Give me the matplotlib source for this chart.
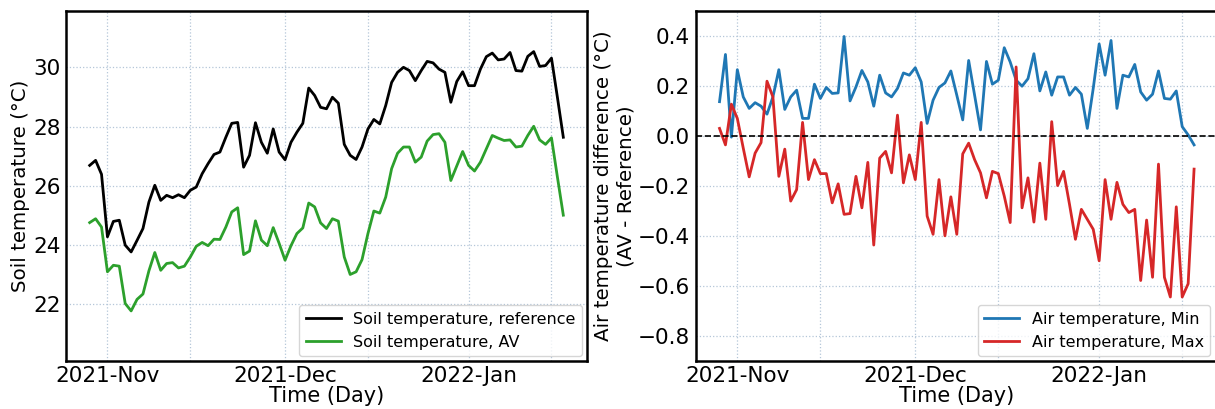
import numpy as np
import pandas as pd
import matplotlib
matplotlib.use("Agg")
import matplotlib.pyplot as plt
import matplotlib.dates as mdates

dates = pd.date_range("2021-10-29", "2022-01-17", freq="D")

soil_ref = [26.69, 26.86, 26.39, 24.28, 24.80, 24.84, 24.00, 23.77, 24.16, 24.56,
            25.45, 26.02, 25.51, 25.68, 25.60, 25.70, 25.60, 25.85, 25.96, 26.41,
            26.75, 27.06, 27.14, 27.64, 28.11, 28.14, 26.63, 27.03, 28.13, 27.47,
            27.10, 27.92, 27.14, 26.88, 27.47, 27.81, 28.11, 29.30, 29.05, 28.65,
            28.60, 28.99, 28.79, 27.40, 27.03, 26.89, 27.31, 27.92, 28.24, 28.09,
            28.71, 29.49, 29.83, 30.00, 29.89, 29.55, 29.89, 30.20, 30.15, 29.94,
            29.83, 28.82, 29.52, 29.85, 29.38, 29.38, 29.94, 30.36, 30.48, 30.25,
            30.28, 30.50, 29.89, 29.87, 30.37, 30.53, 30.03, 30.06, 30.31, 28.99,
            27.64]

soil_av = [24.76, 24.89, 24.61, 23.10, 23.32, 23.29, 22.03, 21.78, 22.17, 22.35,
           23.13, 23.75, 23.15, 23.38, 23.41, 23.23, 23.29, 23.60, 23.96, 24.09,
           23.98, 24.20, 24.19, 24.61, 25.12, 25.26, 23.68, 23.80, 24.82, 24.17,
           23.98, 24.59, 24.06, 23.49, 23.98, 24.39, 24.58, 25.42, 25.29, 24.75,
           24.56, 24.89, 24.81, 23.60, 23.01, 23.10, 23.51, 24.39, 25.15, 25.08,
           25.62, 26.58, 27.10, 27.31, 27.31, 26.80, 26.97, 27.51, 27.73, 27.76,
           27.47, 26.18, 26.67, 27.16, 26.69, 26.50, 26.80, 27.25, 27.70, 27.61,
           27.53, 27.55, 27.31, 27.34, 27.70, 28.01, 27.55, 27.40, 27.62, 26.30,
           25.01]

air_min = [0.137, 0.326, -0.005, 0.265, 0.156, 0.110, 0.133, 0.119, 0.087, 0.156,
           0.265, 0.106, 0.156, 0.183, 0.070, 0.070, 0.207, 0.150, 0.194, 0.170,
           0.172, 0.398, 0.140, 0.196, 0.262, 0.216, 0.119, 0.243, 0.172, 0.156,
           0.190, 0.252, 0.243, 0.273, 0.216, 0.050, 0.143, 0.194, 0.212, 0.260,
           0.163, 0.064, 0.302, 0.163, 0.024, 0.298, 0.207, 0.223, 0.353, 0.296,
           0.223, 0.199, 0.229, 0.329, 0.180, 0.256, 0.163, 0.236, 0.236, 0.163,
           0.194, 0.167, 0.030, 0.190, 0.368, 0.243, 0.382, 0.110, 0.243, 0.236,
           0.286, 0.176, 0.143, 0.167, 0.260, 0.150, 0.147, 0.180, 0.037, 0.004,
           -0.036]

air_max = [0.030, -0.036, 0.127, 0.070, -0.049, -0.164, -0.069, -0.027, 0.219, 0.156,
           -0.162, -0.053, -0.261, -0.215, 0.054, -0.175, -0.095, -0.151, -0.151, -0.268,
           -0.192, -0.314, -0.311, -0.162, -0.288, -0.106, -0.437, -0.089, -0.062, -0.148,
           0.083, -0.188, -0.076, -0.175, 0.054, -0.321, -0.394, -0.175, -0.400, -0.244,
           -0.394, -0.072, -0.029, -0.095, -0.148, -0.248, -0.142, -0.151, -0.241, -0.347,
           0.276, -0.288, -0.168, -0.345, -0.109, -0.334, 0.057, -0.199, -0.142, -0.274,
           -0.414, -0.294, -0.334, -0.374, -0.500, -0.175, -0.334, -0.186, -0.274, -0.307,
           -0.294, -0.579, -0.337, -0.566, -0.113, -0.566, -0.645, -0.284, -0.645, -0.592,
           -0.133]

fig = plt.figure(figsize=(12.15, 4.09), dpi=100)
W, H = 1215, 409
ax1 = fig.add_axes([66 / W, (H - 360.7) / H, 521 / W, 349.7 / H])
ax2 = fig.add_axes([695.8 / W, (H - 360.7) / H, 522 / W, 349.7 / H])

grid_kw = dict(color="#b4c6d8", linestyle=":", linewidth=0.9)

def style(ax):
    ax.xaxis.set_major_locator(mdates.MonthLocator())
    ax.xaxis.set_minor_locator(mdates.MonthLocator(bymonthday=15))
    ax.xaxis.set_major_formatter(mdates.DateFormatter("%Y-%b"))
    ax.grid(True, which="major", axis="both", **grid_kw)
    ax.grid(True, which="minor", axis="x", **grid_kw)
    ax.tick_params(axis="both", which="both", length=0, pad=4, labelsize=15.5)
    for s in ax.spines.values():
        s.set_linewidth(1.8)
        s.set_color("black")
    ax.set_axisbelow(True)

ax1.plot(dates, soil_ref, color="black", lw=2, label="Soil temperature, reference")
ax1.plot(dates, soil_av, color="#2ca02c", lw=2, label="Soil temperature, AV")
ax1.set_ylim(20.1, 31.9)
ax1.set_yticks([22, 24, 26, 28, 30])
style(ax1)
ax1.set_xlim(dates[0] - pd.Timedelta(days=4), dates[-1] + pd.Timedelta(days=4))
ax1.set_xlabel("Time (Day)", fontsize=15, labelpad=0)
ax1.set_ylabel("Soil temperature (°C)", fontsize=14.3, labelpad=2)
ax1.legend(loc="lower right", fontsize=11.5, frameon=True, handlelength=2.2,
           borderaxespad=0.3)

ax2.plot(dates, air_min, color="#1f77b4", lw=2, label="Air temperature, Min")
ax2.plot(dates, air_max, color="#d62728", lw=2, label="Air temperature, Max")
ax2.axhline(0, color="black", linestyle="--", lw=1.2)
ax2.set_ylim(-0.9, 0.5)
ax2.set_yticks([-0.8, -0.6, -0.4, -0.2, 0.0, 0.2, 0.4])
style(ax2)
ax2.set_xlim(dates[0] - pd.Timedelta(days=4), dates[-1] + pd.Timedelta(days=4))
ax2.set_xlabel("Time (Day)", fontsize=15, labelpad=0)
ax2.set_ylabel("Air temperature difference (°C)\n(AV - Reference)", fontsize=14.3, labelpad=2)
ax2.legend(loc="lower right", bbox_to_anchor=(0.995, 0.0), fontsize=11.5, frameon=True,
           handlelength=2.2, borderaxespad=0.3)

fig.savefig("out.png", dpi=100)
